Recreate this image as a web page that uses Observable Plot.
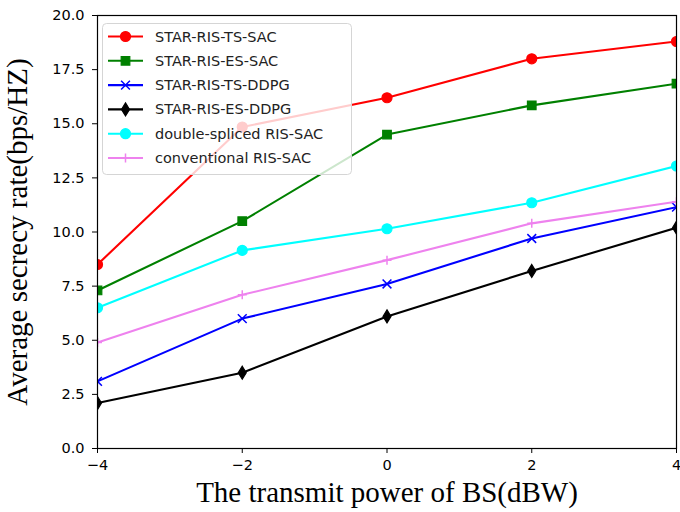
<!DOCTYPE html>
<html>
<head>
<meta charset="utf-8">
<script src="https://cdn.jsdelivr.net/npm/d3@7"></script>
<script src="https://cdn.jsdelivr.net/npm/@observablehq/plot@0.6"></script>
<style>
  body { margin: 0; background: #fff; }
  #wrap { position: relative; width: 680px; height: 512px; }
  #legend { position: absolute; left: 102px; top: 23px; }
</style>
</head>
<body>
<div id="wrap"></div>
<script>
// ---- Data ----
const xValues = [-4, -2, 0, 2, 4];
const seriesNames = [
  "STAR-RIS-TS-SAC",
  "STAR-RIS-ES-SAC",
  "STAR-RIS-TS-DDPG",
  "STAR-RIS-ES-DDPG",
  "double-spliced RIS-SAC",
  "conventional RIS-SAC"
];
const starTsSac   = [8.5, 14.85, 16.2, 18.0, 18.8];
const starEsSac   = [7.3, 10.5, 14.5, 15.85, 16.85];
const starTsDdpg  = [3.1, 6.0, 7.6, 9.7, 11.15];
const starEsDdpg  = [2.1, 3.5, 6.1, 8.2, 10.2];
const doubleRisSac = [6.5, 9.15, 10.15, 11.35, 13.05];
const convRisSac  = [4.9, 7.1, 8.7, 10.4, 11.4];
const seriesValues = [starTsSac, starEsSac, starTsDdpg, starEsDdpg, doubleRisSac, convRisSac];
const seriesColors = ["#ff0000", "#008000", "#0000ff", "#000000", "#00ffff", "#ee82ee"];
const yTicks = [0, 2.5, 5, 7.5, 10, 12.5, 15, 17.5, 20];
const xLabel = "The transmit power of BS(dBW)";
const yLabel = "Average secrecy rate(bps/HZ)";

// ---- Marker shapes ----
const symCircle = { draw(c) { c.moveTo(5, 0); c.arc(0, 0, 5, 0, 2 * Math.PI); } };
const symSquare = { draw(c) { c.rect(-4.3, -4.3, 8.6, 8.6); } };
const symTimes = { draw(c) { c.moveTo(-4.4, -4.4); c.lineTo(4.4, 4.4); c.moveTo(-4.4, 4.4); c.lineTo(4.4, -4.4); } };
const symThinDiamond = { draw(c) { c.moveTo(0, -6.5); c.lineTo(4, 0); c.lineTo(0, 6.5); c.lineTo(-4, 0); c.closePath(); } };
const symPlus = { draw(c) { c.moveTo(-4.5, 0); c.lineTo(4.5, 0); c.moveTo(0, -4.5); c.lineTo(0, 4.5); } };
const seriesSymbols = [symCircle, symSquare, symTimes, symThinDiamond, symCircle, symPlus];
const seriesFilled = [true, true, false, true, true, false];

const rows = [];
seriesNames.forEach((name, i) => {
  xValues.forEach((x, j) => rows.push({ series: name, idx: i, x, y: seriesValues[i][j] }));
});

const marks = [];
seriesNames.forEach((name, i) => {
  const d = rows.filter(r => r.idx === i);
  marks.push(Plot.line(d, { x: "x", y: "y", stroke: seriesColors[i], strokeWidth: 2.1, clip: true }));
  marks.push(Plot.dot(d, {
    x: "x", y: "y", r: 5, symbol: seriesSymbols[i],
    fill: seriesFilled[i] ? seriesColors[i] : "none",
    stroke: seriesColors[i],
    strokeWidth: seriesFilled[i] ? 1.2 : 1.5,
    clip: true
  }));
});

const serif = "'Liberation Serif', 'Times New Roman', serif";
const chart = Plot.plot({
  width: 680,
  height: 512,
  marginLeft: 97,
  marginRight: 4,
  marginTop: 15,
  marginBottom: 64,
  style: { background: "#fff", color: "#000", fontFamily: "'DejaVu Sans', sans-serif" },
  x: { domain: [-4, 4] },
  y: { domain: [0, 20] },
  marks: [
    ...marks,
    Plot.frame({ stroke: "#000", strokeWidth: 1.2 }),
    Plot.axisX({ ticks: xValues, tickFormat: d3.format("d"), tickSize: 5, tickPadding: 6, fontSize: 14.5, label: null }),
    Plot.axisY({ ticks: yTicks, tickFormat: d3.format(".1f"), tickSize: 5, tickPadding: 8, fontSize: 14.5, label: null }),
    Plot.text([xLabel], { text: d => d, frameAnchor: "bottom", dy: 53, fontSize: 29, fontFamily: serif, fill: "#000" }),
    Plot.text([yLabel], { text: d => d, frameAnchor: "left", textAnchor: "middle", dx: -80, rotate: -90, fontSize: 29, fontFamily: serif, fill: "#000" })
  ]
});
document.getElementById("wrap").appendChild(chart);

// ---- Legend overlay ----
const lw = 250, lh = 152, rowGap = 24.3, row0 = 13.5;
const leg = d3.select("#wrap").append("svg")
  .attr("id", "legend").attr("width", lw).attr("height", lh);
leg.append("rect").attr("x", 0.5).attr("y", 0.5).attr("width", lw - 1).attr("height", lh - 1)
  .attr("rx", 4).attr("fill", "rgba(255,255,255,0.8)").attr("stroke", "#d5d5d5");
seriesNames.forEach((name, i) => {
  const cy = row0 + i * rowGap;
  const g = leg.append("g").attr("transform", `translate(0,${cy})`);
  g.append("line").attr("x1", 6).attr("x2", 41).attr("y1", 0).attr("y2", 0)
    .attr("stroke", seriesColors[i]).attr("stroke-width", 2.1);
  g.append("path").attr("transform", "translate(23.5,0)")
    .attr("d", d3.symbol().type(seriesSymbols[i]).size(1)())
    .attr("fill", seriesFilled[i] ? seriesColors[i] : "none")
    .attr("stroke", seriesColors[i]).attr("stroke-width", seriesFilled[i] ? 1.2 : 1.5);
  g.append("text").attr("x", 53).attr("y", 0).attr("dy", "0.35em")
    .attr("font-family", "'DejaVu Sans', sans-serif").attr("font-size", 14.5)
    .attr("fill", "#222").text(name);
});
</script>
</body>
</html>
